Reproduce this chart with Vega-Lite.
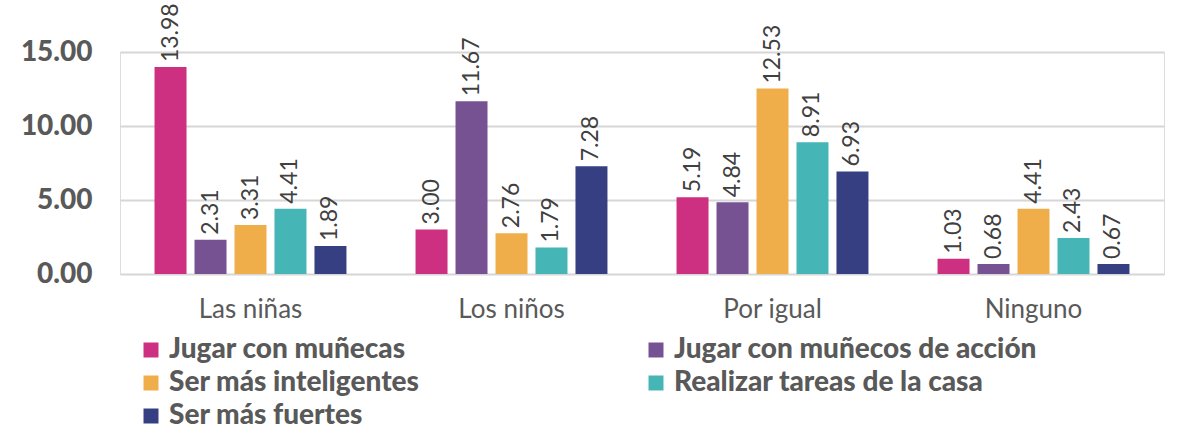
{
  "$schema": "https://vega.github.io/schema/vega-lite/v6.json",
  "width": 1044,
  "height": 222,
  "autosize": {"type": "none"},
  "padding": {"left": 120, "top": 52, "right": 14, "bottom": 159},
  "background": "white",
  "data": {
    "values": [
      {"grupo": "Las niñas", "cat": "Jugar con muñecas", "valor": 13.98},
      {"grupo": "Las niñas", "cat": "Jugar con muñecos de acción", "valor": 2.31},
      {"grupo": "Las niñas", "cat": "Ser más inteligentes", "valor": 3.31},
      {"grupo": "Las niñas", "cat": "Realizar tareas de la casa", "valor": 4.41},
      {"grupo": "Las niñas", "cat": "Ser más fuertes", "valor": 1.89},
      {"grupo": "Los niños", "cat": "Jugar con muñecas", "valor": 3.00},
      {"grupo": "Los niños", "cat": "Jugar con muñecos de acción", "valor": 11.67},
      {"grupo": "Los niños", "cat": "Ser más inteligentes", "valor": 2.76},
      {"grupo": "Los niños", "cat": "Realizar tareas de la casa", "valor": 1.79},
      {"grupo": "Los niños", "cat": "Ser más fuertes", "valor": 7.28},
      {"grupo": "Por igual", "cat": "Jugar con muñecas", "valor": 5.19},
      {"grupo": "Por igual", "cat": "Jugar con muñecos de acción", "valor": 4.84},
      {"grupo": "Por igual", "cat": "Ser más inteligentes", "valor": 12.53},
      {"grupo": "Por igual", "cat": "Realizar tareas de la casa", "valor": 8.91},
      {"grupo": "Por igual", "cat": "Ser más fuertes", "valor": 6.93},
      {"grupo": "Ninguno", "cat": "Jugar con muñecas", "valor": 1.03},
      {"grupo": "Ninguno", "cat": "Jugar con muñecos de acción", "valor": 0.68},
      {"grupo": "Ninguno", "cat": "Ser más inteligentes", "valor": 4.41},
      {"grupo": "Ninguno", "cat": "Realizar tareas de la casa", "valor": 2.43},
      {"grupo": "Ninguno", "cat": "Ser más fuertes", "valor": 0.67}
    ]
  },
  "encoding": {
    "x": {
      "field": "grupo",
      "type": "nominal",
      "sort": ["Las niñas", "Los niños", "Por igual", "Ninguno"],
      "scale": {"paddingInner": 0.234, "paddingOuter": 0.117},
      "axis": {
        "title": null,
        "labelAngle": 0,
        "domain": false,
        "ticks": false,
        "grid": false,
        "labelFont": "Lato",
        "labelFontSize": 26,
        "labelColor": "#595959",
        "labelPadding": 22
      }
    },
    "xOffset": {
      "field": "cat",
      "type": "nominal",
      "sort": ["Jugar con muñecas", "Jugar con muñecos de acción", "Ser más inteligentes", "Realizar tareas de la casa", "Ser más fuertes"],
      "scale": {"paddingInner": 0.2, "paddingOuter": 0.1}
    },
    "y": {
      "field": "valor",
      "type": "quantitative",
      "scale": {"domain": [0, 15]},
      "axis": {
        "title": null,
        "values": [0, 5, 10, 15],
        "format": ".2f",
        "domain": false,
        "ticks": false,
        "gridColor": "#d6d6d6",
        "gridWidth": 2,
        "labelFont": "Lato",
        "labelFontSize": 28,
        "labelFontWeight": 900,
        "labelColor": "#595959",
        "labelPadding": 28
      }
    }
  },
  "layer": [
    {
      "mark": {"type": "bar"},
      "encoding": {
        "color": {
          "field": "cat",
          "type": "nominal",
          "sort": ["Jugar con muñecas", "Jugar con muñecos de acción", "Ser más inteligentes", "Realizar tareas de la casa", "Ser más fuertes"],
          "scale": {
            "domain": ["Jugar con muñecas", "Jugar con muñecos de acción", "Ser más inteligentes", "Realizar tareas de la casa", "Ser más fuertes"],
            "range": ["#CD3080", "#775293", "#EFAE4A", "#46B5B5", "#363F81"]
          },
          "legend": {
            "title": null,
            "orient": "none",
            "legendX": 17,
            "legendY": 284,
            "padding": 0,
            "direction": "horizontal",
            "columns": 2,
            "columnPadding": 222,
            "rowPadding": 5,
            "symbolType": "square",
            "symbolSize": 225,
            "symbolStrokeWidth": 0,
            "labelFont": "Lato",
            "labelFontSize": 28,
            "labelFontWeight": 900,
            "labelColor": "#595959",
            "labelOffset": 4,
            "labelLimit": 600
          }
        }
      }
    },
    {
      "mark": {
        "type": "text",
        "angle": 270,
        "align": "left",
        "baseline": "middle",
        "dx": 5,
        "font": "Lato",
        "fontSize": 23,
        "color": "#404040"
      },
      "encoding": {
        "text": {"field": "valor", "type": "quantitative", "format": ".2f"}
      }
    }
  ]
}
